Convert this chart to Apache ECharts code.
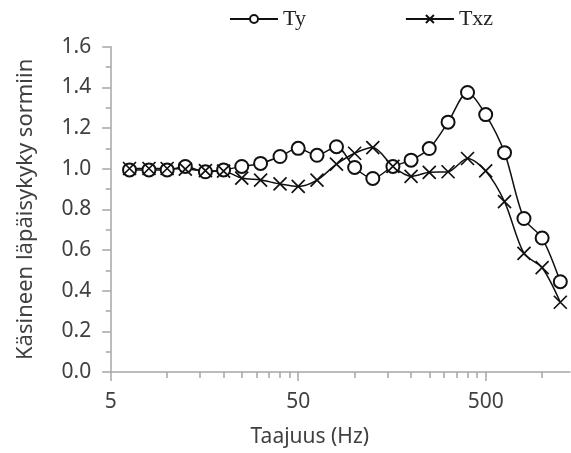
<!DOCTYPE html>
<html>
<head>
<meta charset="utf-8">
<script src="https://cdn.jsdelivr.net/npm/echarts@6/dist/echarts.min.js"></script>
<style>html,body{margin:0;padding:0;background:#fff}#c{width:571px;height:453px}</style>
</head>
<body>
<div id="c"></div>
<script>
// Data
const freqs = [6.3, 8, 10, 12.5, 16, 20, 25, 31.5, 40, 50, 63, 80, 100, 125, 160, 200, 250, 315, 400, 500, 630, 800, 1000, 1250];
const ty  = [0.994, 0.994, 0.994, 1.011, 0.985, 0.994, 1.011, 1.026, 1.060, 1.100, 1.066, 1.108, 1.006, 0.952, 1.011, 1.042, 1.099, 1.229, 1.375, 1.266, 1.079, 0.755, 0.659, 0.444];
const txz = [1.001, 1.001, 1.001, 0.998, 0.990, 0.988, 0.954, 0.944, 0.925, 0.913, 0.944, 1.022, 1.076, 1.104, 1.011, 0.962, 0.982, 0.985, 1.050, 0.989, 0.838, 0.583, 0.513, 0.343];
const majorTicks = [5, 50, 500];
const minorTicks = [10, 15, 20, 25, 30, 35, 40, 45, 100, 150, 200, 250, 300, 350, 400, 450, 1000];
const xMin = 5, xMax = 1408;

const L = Math.log10;
const textColor = '#404040';
const axisColor = '#a6a6a6';
const lineColor = '#111111';
const sans = '"Noto Sans", "Open Sans", sans-serif';

const chart = echarts.init(document.getElementById('c'), null, {renderer: 'canvas'});
chart.setOption({
  animation: false,
  backgroundColor: '#ffffff',
  grid: {left: 110.7, right: 1, top: 46.7, bottom: 78.7, containLabel: false},
  legend: {
    top: 8, left: 229, padding: 0, itemGap: 99, itemWidth: 48, itemHeight: 10,
    textStyle: {fontFamily: '"Liberation Serif", "Times New Roman", serif', fontSize: 22, color: '#222'},
    data: ['Ty', 'Txz']
  },
  xAxis: [{
    type: 'value', min: L(xMin), max: L(xMax), position: 'bottom',
    axisLine: {show: true, lineStyle: {color: axisColor, width: 1.5}},
    axisTick: {show: true, length: 9, customValues: majorTicks.map(L), lineStyle: {color: axisColor, width: 1.5}},
    axisLabel: {customValues: majorTicks.map(L), margin: 20, color: textColor, fontFamily: sans, fontSize: 21,
      formatter: v => String(Math.round(Math.pow(10, v)))},
    splitLine: {show: false},
    name: 'Taajuus (Hz)', nameLocation: 'middle', nameGap: 55,
    nameTextStyle: {color: textColor, fontFamily: sans, fontSize: 21, padding: [0, 61, 0, 0]}
  }, {
    type: 'value', min: L(xMin), max: L(xMax), position: 'bottom', offset: 0,
    axisLine: {show: false},
    axisTick: {show: true, length: 6, customValues: minorTicks.map(L), lineStyle: {color: axisColor, width: 1.5}},
    axisLabel: {show: false},
    splitLine: {show: false}
  }],
  yAxis: {
    type: 'value', min: 0, max: 1.6, interval: 0.2,
    axisLine: {show: true, lineStyle: {color: axisColor, width: 1.5}},
    axisTick: {show: true, length: 8.5, lineStyle: {color: axisColor, width: 1.5}},
    minorTick: {show: true, splitNumber: 2, length: 5, lineStyle: {color: axisColor, width: 1.5}},
    axisLabel: {margin: 19.5, color: textColor, fontFamily: sans, fontSize: 21, formatter: v => v.toFixed(1)},
    splitLine: {show: false},
    name: 'Käsineen läpäisykyky sormiin', nameLocation: 'middle', nameGap: 74,
    nameTextStyle: {color: textColor, fontFamily: sans, fontSize: 22}
  },
  series: [{
    name: 'Ty', type: 'line', smooth: 0.3,
    data: freqs.map((f, i) => [L(f), ty[i]]),
    symbol: 'emptyCircle', symbolSize: 13,
    itemStyle: {color: lineColor, borderWidth: 1.5},
    lineStyle: {color: lineColor, width: 1.5}
  }, {
    name: 'Txz', type: 'line', smooth: 0.3,
    data: freqs.map((f, i) => [L(f), txz[i]]),
    symbol: 'path://M0,0L10,10M10,0L0,10', symbolSize: 13,
    itemStyle: {color: 'rgba(0,0,0,0)', borderColor: lineColor, borderWidth: 1.7},
    lineStyle: {color: lineColor, width: 1.5}
  }]
});
</script>
</body>
</html>
